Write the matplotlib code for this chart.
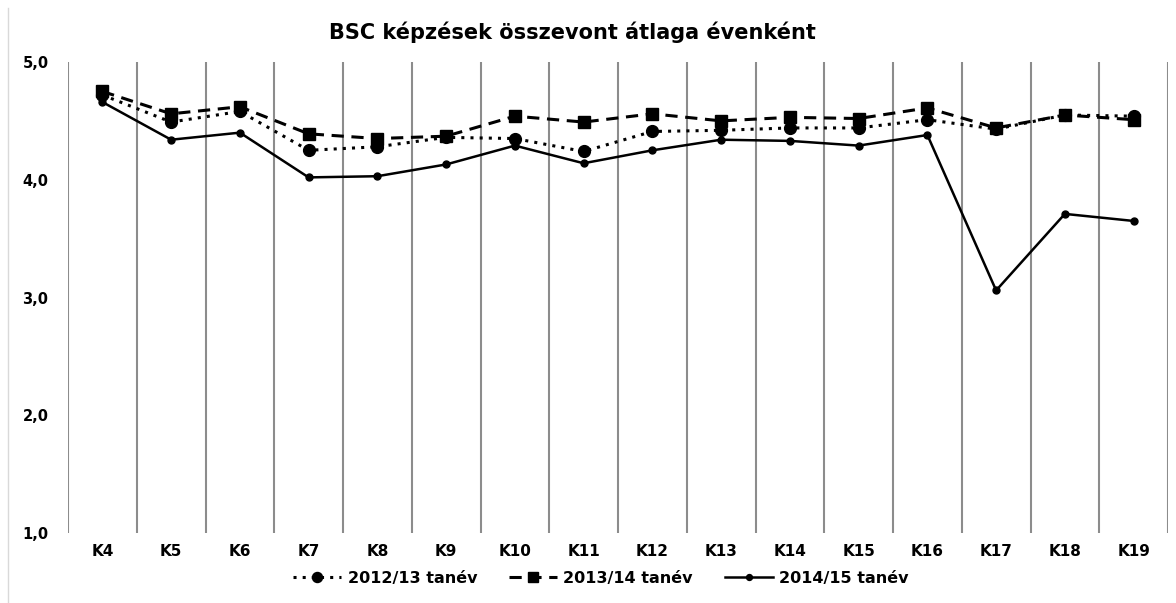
import numpy as np
import matplotlib
matplotlib.use("Agg")
import matplotlib.pyplot as plt
from matplotlib.lines import Line2D

plt.rcParams["font.family"] = ["DejaVu Sans"]
plt.rcParams["font.weight"] = "bold"

# adatok
kategoriak = ["K4", "K5", "K6", "K7", "K8", "K9", "K10", "K11",
              "K12", "K13", "K14", "K15", "K16", "K17", "K18", "K19"]
ev_2012 = [4.72, 4.49, 4.58, 4.25, 4.28, 4.36, 4.35, 4.24,
           4.41, 4.42, 4.44, 4.44, 4.51, 4.43, 4.55, 4.54]
ev_2013 = [4.75, 4.56, 4.62, 4.39, 4.35, 4.37, 4.54, 4.49,
           4.56, 4.50, 4.53, 4.52, 4.61, 4.44, 4.55, 4.51]
ev_2014 = [4.66, 4.34, 4.40, 4.02, 4.03, 4.13, 4.29, 4.14,
           4.25, 4.34, 4.33, 4.29, 4.38, 3.06, 3.71, 3.65]
y_ticks = [1.0, 2.0, 3.0, 4.0, 5.0]

fig = plt.figure(figsize=(11.76, 6.03), dpi=100)
ax = fig.add_axes([68 / 1176, 1 - 533 / 603, 1100 / 1176, 471 / 603])

x = np.arange(len(kategoriak))
ax.plot(x, ev_2012, color="black", linestyle=(0, (1, 2)), linewidth=2.2,
        marker="o", markersize=8.5, label="2012/13 tanév")
ax.plot(x, ev_2013, color="black", linestyle=(0, (4, 2.5)), linewidth=2.2,
        marker="s", markersize=8.5, label="2013/14 tanév")
ax.plot(x, ev_2014, color="black", linestyle="-", linewidth=1.8,
        marker="o", markersize=5, label="2014/15 tanév")

ax.set_xlim(-0.5, len(kategoriak) - 0.5)
ax.set_ylim(1.0, 5.0)
ax.set_xticks(x)
ax.set_xticklabels(kategoriak, fontsize=11, fontweight="bold")
ax.set_yticks(y_ticks)
ax.set_yticklabels([f"{v:.1f}".replace(".", ",") for v in y_ticks],
                   fontsize=10.5, fontweight="bold")
ax.tick_params(axis="both", length=0)
ax.tick_params(axis="x", pad=8)
ax.tick_params(axis="y", pad=14)

# függőleges rácsvonalak a kategóriák között
ax.set_xticks(np.arange(-0.5, len(kategoriak)), minor=True)
ax.tick_params(axis="x", which="minor", length=0)
ax.grid(True, axis="x", which="minor", color="#8c8c8c", linewidth=1.5)
ax.grid(False, axis="x", which="major")
for s in ax.spines.values():
    s.set_visible(False)

fig.text(572 / 1176, 1 - 32 / 603, "BSC képzések összevont átlaga évenként",
         ha="center", va="center", fontsize=15, fontweight="bold")

fig.legend(loc="center", bbox_to_anchor=(601 / 1176, 1 - 578 / 603), ncol=3,
           frameon=False, handlelength=3, handletextpad=0.4, columnspacing=2.0,
           markerscale=0.85, prop={"size": 11.5, "weight": "bold"})

# diagram kerete bal oldalon
fig.add_artist(Line2D([8 / 1176, 8 / 1176], [0, 1 - 8 / 603],
                      transform=fig.transFigure, color="#d9d9d9", linewidth=1))

fig.savefig("out.png", dpi=100)
